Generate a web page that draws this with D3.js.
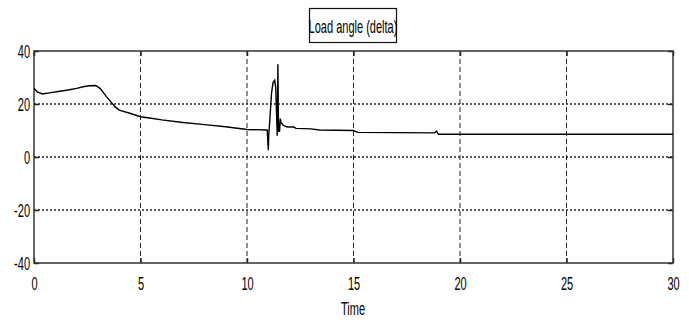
<!DOCTYPE html>
<html>
<head>
<meta charset="utf-8">
<script src="https://cdn.jsdelivr.net/npm/d3@7"></script>
<style>
  body { margin: 0; background: #fff; }
</style>
</head>
<body>
<div id="chart"></div>
<script>
// values
const time = [0, 0.15, 0.4, 0.8, 1.2, 1.6, 2.0, 2.3, 2.6, 2.9, 3.1, 3.4, 3.6, 3.8, 4.0, 4.5, 5.0, 5.5, 6.0, 7.0, 8.0, 9.0, 10.0, 10.95, 11.0, 11.02, 11.08, 11.15, 11.22, 11.3, 11.35, 11.4, 11.42, 11.45, 11.48, 11.5, 11.53, 11.56, 11.6, 11.7, 11.85, 12.0, 12.2, 12.3, 13.0, 13.4, 15.0, 15.2, 17.0, 18.8, 18.9, 18.95, 19.0, 20, 25, 30]
const delta = [26.0, 24.6, 23.8, 24.3, 24.8, 25.3, 25.9, 26.5, 26.9, 27.0, 25.9, 22.8, 20.9, 19.0, 17.7, 16.5, 15.2, 14.6, 14.0, 13.0, 12.2, 11.4, 10.4, 10.2, 2.6, 8.0, 15.0, 24.0, 28.0, 29.0, 26.0, 13.0, 8.0, 35.0, 9.4, 13.0, 9.5, 14.5, 13.0, 12.0, 11.4, 11.3, 11.3, 10.8, 10.6, 10.2, 10.0, 9.3, 9.2, 9.1, 9.8, 9.0, 8.6, 8.6, 8.6, 8.6]
const xTicks = [0, 5, 10, 15, 20, 25, 30]
const yTicks = [-40, -20, 0, 20, 40]
const title = 'Load angle (delta)'
const xLabel = 'Time'

const margin = { top: 51, left: 34, right: 16, bottom: 57 }
const width = 689 - margin.left - margin.right
const height = 320 - margin.top - margin.bottom
const squeeze = 0.58 // matlab-ish narrow font
const fontSize = 19

const root = d3
  .select('#chart')
  .append('svg')
  .attr('width', 689)
  .attr('height', 320)
  .style('font-family', 'Liberation Sans, Arial, sans-serif')

const svg = root
  .append('g')
  .attr('transform', 'translate(' + margin.left + ',' + margin.top + ')')

const x = d3.scaleLinear().domain([0, 30]).range([0, width])
const y = d3.scaleLinear().domain([-40, 40]).range([height, 0])

// grid
svg
  .selectAll('.vgrid')
  .data(xTicks.slice(1, -1))
  .enter()
  .append('line')
  .attr('x1', d => x(d))
  .attr('x2', d => x(d))
  .attr('y1', 0)
  .attr('y2', height)
  .attr('stroke', '#222')
  .attr('stroke-width', 1)
  .attr('stroke-dasharray', '5,3')

svg
  .selectAll('.hgrid')
  .data(yTicks.slice(1, -1))
  .enter()
  .append('line')
  .attr('x1', 0)
  .attr('x2', width)
  .attr('y1', d => y(d))
  .attr('y2', d => y(d))
  .attr('stroke', '#222')
  .attr('stroke-width', 1.5)
  .attr('stroke-dasharray', '2,2')

// axes, ticks pointing in; plain hyphen for the minus like the original
const fmt = d => String(d)
const xAxis = svg
  .append('g')
  .attr('transform', 'translate(0,' + height + ')')
  .call(d3.axisBottom(x).tickValues(xTicks).tickSizeInner(-5).tickSizeOuter(0).tickFormat(fmt))
svg
  .append('g')
  .call(d3.axisTop(x).tickValues(xTicks).tickSizeInner(-5).tickSizeOuter(0).tickFormat(''))
const yAxis = svg
  .append('g')
  .call(d3.axisLeft(y).tickValues(yTicks).tickSizeInner(-5).tickSizeOuter(0).tickFormat(fmt))
svg
  .append('g')
  .attr('transform', 'translate(' + width + ',0)')
  .call(d3.axisRight(y).tickValues(yTicks).tickSizeInner(-5).tickSizeOuter(0).tickFormat(''))

svg.selectAll('.domain').remove()
svg.selectAll('.tick line').attr('stroke', '#222').attr('stroke-width', 1.5)

xAxis
  .selectAll('text')
  .attr('font-size', fontSize)
  .attr('fill', '#000')
  .attr('x', 0)
  .attr('y', 27)
  .attr('dy', 0)
  .attr('transform', 'scale(' + squeeze + ',1)')

yAxis
  .selectAll('text')
  .attr('font-size', fontSize)
  .attr('fill', '#000')
  .attr('x', -4 / squeeze)
  .attr('dy', '0.35em')
  .attr('transform', 'scale(' + squeeze + ',1)')

// frame
svg
  .append('rect')
  .attr('width', width)
  .attr('height', height)
  .attr('fill', 'none')
  .attr('stroke', '#333')
  .attr('stroke-width', 1.5)

// the signal
const line = d3
  .line()
  .x((d, i) => x(time[i]))
  .y(d => y(d))

svg
  .append('path')
  .datum(delta)
  .attr('d', line)
  .attr('fill', 'none')
  .attr('stroke', '#000')
  .attr('stroke-width', 1.4)

// x label
root
  .append('text')
  .text(xLabel)
  .attr('font-size', fontSize)
  .attr('fill', '#000')
  .attr('text-anchor', 'middle')
  .attr('transform', 'translate(353,315) scale(' + squeeze + ',1)')

// title in a box
root
  .append('rect')
  .attr('x', 309.5)
  .attr('y', 8.5)
  .attr('width', 87)
  .attr('height', 34)
  .attr('fill', '#fff')
  .attr('stroke', '#111')
  .attr('stroke-width', 1.2)

root
  .append('text')
  .text(title)
  .attr('font-size', fontSize)
  .attr('fill', '#000')
  .attr('text-anchor', 'middle')
  .attr('transform', 'translate(353,33) scale(' + squeeze + ',1)')
</script>
</body>
</html>
